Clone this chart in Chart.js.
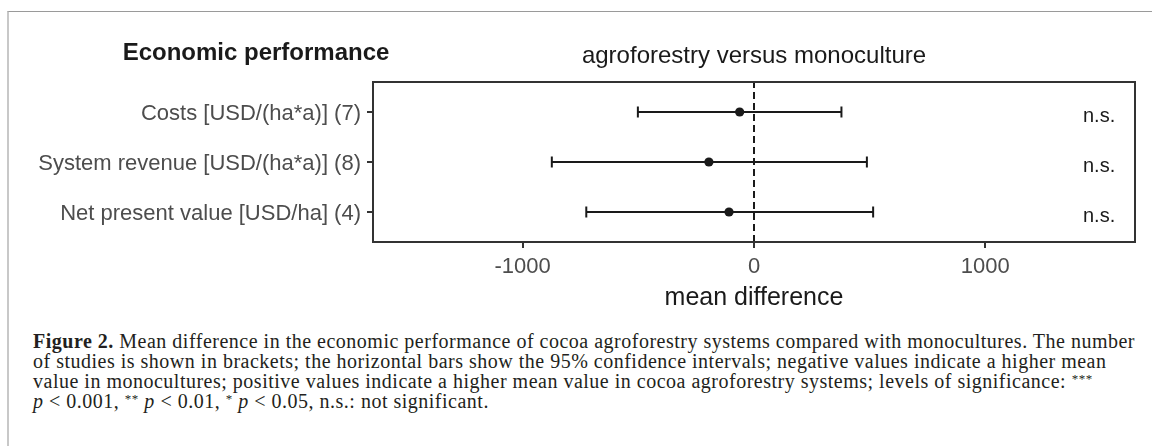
<!DOCTYPE html>
<html>
<head>
<meta charset="utf-8">
<script src="https://cdn.jsdelivr.net/npm/chart.js@4/dist/chart.umd.min.js"></script>
<style>
  html, body { margin: 0; padding: 0; background: #fff; }
  body { width: 1152px; height: 446px; position: relative; overflow: hidden; }
  #frame {
    position: absolute; left: 7px; top: 11px; right: 0; bottom: 0;
    border-top: 1px solid #9a9a9a; border-left: 2px solid #c8c8c8;
  }
  #chart { position: absolute; left: 0; top: 0; }
  #caption {
    position: absolute; left: 33px; top: 331px;
    font-family: "Liberation Serif", "DejaVu Serif", serif;
    font-size: 20px; line-height: 20px; color: #231f20;
  }
  #caption div { white-space: nowrap; }
  #caption sup { font-size: 13px; vertical-align: 5px; line-height: 0; }
</style>
</head>
<body>
<div id="frame"></div>
<canvas id="chart" width="1152" height="330"></canvas>
<div id="caption">
  <div id="cap1"><b>Figure 2.</b> Mean difference in the economic performance of cocoa agroforestry systems compared with monocultures. The number</div>
  <div>of studies is shown in brackets; the horizontal bars show the 95% confidence intervals; negative values indicate a higher mean</div>
  <div>value in monocultures; positive values indicate a higher mean value in cocoa agroforestry systems; levels of significance: <sup>***</sup></div>
  <div><i>p</i> &lt; 0.001, <sup>**</sup> <i>p</i> &lt; 0.01, <sup>*</sup> <i>p</i> &lt; 0.05, n.s.: not significant.</div>
</div>
<script>
// data
var categories = ["Costs [USD/(ha*a)] (7)", "System revenue [USD/(ha*a)] (8)", "Net present value [USD/ha] (4)"];
var means = [-62, -195, -108];
var lower = [-502, -874, -725];
var upper = [378, 488, 515];
var signif = ["n.s.", "n.s.", "n.s."];
var xTicks = [-1000, 0, 1000];

var ink = "#1a1a1a";

// stretch the caption so the first line spans the panel width
(function() {
    var cap = document.getElementById("caption");
    var first = document.getElementById("cap1");
    var w = first.getBoundingClientRect().width;
    var n = first.textContent.length;
    cap.style.letterSpacing = ((1102 - w) / n).toFixed(3) + "px";
})();

var meanPoints = means.map(function(m, i) { return {x: m, y: i + 1}; });

var errorBars = categories.map(function(c, i) {
    return {
        type: "line",
        data: [{x: lower[i], y: i + 1}, {x: upper[i], y: i + 1}],
        borderColor: ink,
        borderWidth: 2,
        pointStyle: "line",
        rotation: 90,
        pointRadius: 5.5,
        pointBorderWidth: 2,
        pointBorderColor: ink
    };
});

var panelText = {
    id: "panelText",
    afterDraw: function(chart) {
        var ctx = chart.ctx;
        var a = chart.chartArea;
        var ys = chart.scales.y;
        ctx.save();
        // panel box
        ctx.strokeStyle = "#333";
        ctx.lineWidth = 2;
        ctx.strokeRect(a.left, a.top, a.right - a.left, a.bottom - a.top);
        // titles
        ctx.fillStyle = ink;
        ctx.textAlign = "center";
        ctx.textBaseline = "alphabetic";
        ctx.font = "bold 24px 'Liberation Sans', Arial, sans-serif";
        ctx.fillText("Economic performance", 256, 60);
        ctx.font = "24px 'Liberation Sans', Arial, sans-serif";
        ctx.fillText("agroforestry versus monoculture", (a.left + a.right) / 2, 63);
        // significance labels
        ctx.font = "20px 'Liberation Sans', Arial, sans-serif";
        ctx.textAlign = "left";
        signif.forEach(function(s, i) {
            ctx.fillText(s, a.right - 52, ys.getPixelForValue(i + 1) + 10);
        });
        ctx.restore();
    }
};

new Chart(document.getElementById("chart"), {
    type: "scatter",
    data: {
        datasets: [
            {
                data: meanPoints,
                backgroundColor: ink,
                borderWidth: 0,
                pointRadius: 4.6
            }
        ].concat(errorBars).concat([
            {
                type: "line",
                data: [{x: 0, y: 3.6}, {x: 0, y: 0.4}],
                borderColor: ink,
                borderWidth: 2,
                borderDash: [7, 4],
                pointRadius: 0
            }
        ])
    },
    options: {
        responsive: false,
        animation: false,
        layout: { padding: { top: 82, right: 17, left: 0, bottom: 0 } },
        plugins: {
            legend: { display: false },
            tooltip: { enabled: false }
        },
        scales: {
            x: {
                type: "linear",
                min: -1647,
                max: 1647,
                afterBuildTicks: function(axis) {
                    axis.ticks = xTicks.map(function(v) { return {value: v}; });
                },
                afterFit: function(axis) { axis.height = 88; },
                grid: { drawOnChartArea: false, tickLength: 6, color: "#333", lineWidth: 2 },
                border: { color: "#333", width: 2 },
                ticks: {
                    padding: 6,
                    color: "#4d4d4d",
                    font: { family: "'Liberation Sans', Arial, sans-serif", size: 22 },
                    callback: function(v) { return String(v); }
                },
                title: {
                    display: true,
                    text: "mean difference",
                    color: ink,
                    font: { family: "'Liberation Sans', Arial, sans-serif", size: 25 },
                    padding: { top: 0, bottom: 17 }
                }
            },
            y: {
                type: "linear",
                reverse: true,
                min: 0.4,
                max: 3.6,
                afterBuildTicks: function(axis) {
                    axis.ticks = categories.map(function(c, i) { return {value: i + 1}; });
                },
                afterFit: function(axis) { axis.width = 373; },
                grid: { drawOnChartArea: false, tickLength: 6, color: "#333", lineWidth: 2 },
                border: { color: "#333", width: 2 },
                ticks: {
                    padding: 6,
                    labelOffset: 2,
                    color: "#4d4d4d",
                    font: { family: "'Liberation Sans', Arial, sans-serif", size: 22 },
                    callback: function(v) { return categories[v - 1]; }
                }
            }
        }
    },
    plugins: [panelText]
});
</script>
</body>
</html>
